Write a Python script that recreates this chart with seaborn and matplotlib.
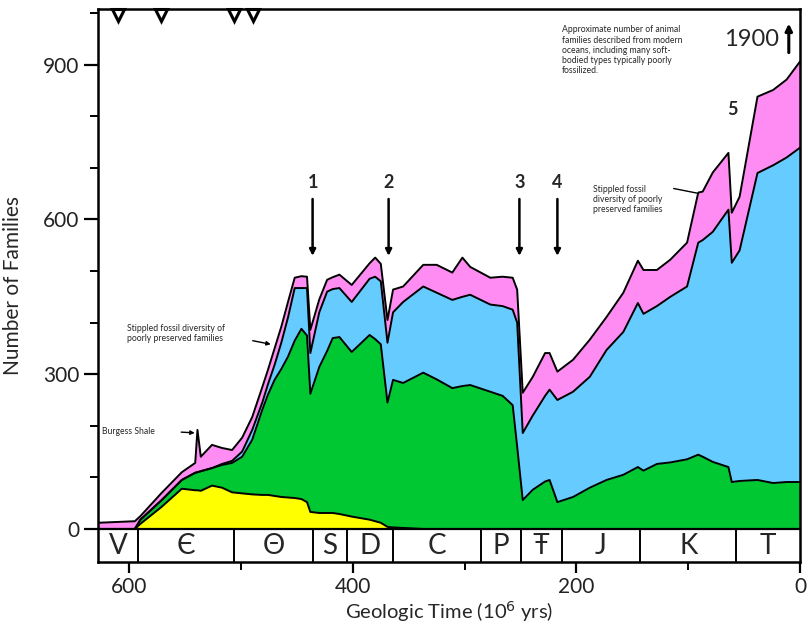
import matplotlib
matplotlib.use("Agg")
import matplotlib.pyplot as plt
import seaborn as sns
import pandas as pd
import numpy as np

# ages in Myr before present, and cumulative diversity (number of families)
ages = [628, 595, 590, 571, 553, 541, 539, 536, 526, 517, 508, 499, 490, 481, 476,
        470, 464, 458, 452, 446, 441, 438, 430, 423, 418, 412, 401, 385, 380, 375,
        369, 364, 355, 337, 325, 311, 302, 295, 277, 266, 257, 253, 248, 239, 228,
        224, 217, 203, 188, 173, 158, 145, 140, 128, 116, 101, 91, 87, 78, 64,
        61, 54, 38, 24, 12, 0]
cambrian_top = [0, 0, 10, 43, 78, 75, 75, 74, 84, 80, 71, 69, 67, 66, 66,
                64, 62, 61, 60, 58, 52, 33, 31, 31, 31, 29, 24, 18, 15, 12,
                4, 3, 2, 0, 0, 0, 0, 0, 0, 0, 0, 0, 0, 0, 0,
                0, 0, 0, 0, 0, 0, 0, 0, 0, 0, 0, 0, 0, 0, 0,
                0, 0, 0, 0, 0, 0]
paleozoic_top = [0, 0, 18, 56, 95, 109, 110, 112, 118, 124, 128, 140, 173, 231, 260,
                 289, 310, 334, 365, 388, 375, 262, 314, 345, 370, 372, 343, 376, 368, 358,
                 245, 289, 283, 303, 290, 273, 277, 279, 266, 258, 240, 160, 56, 76, 92,
                 95, 52, 62, 80, 95, 105, 120, 113, 126, 129, 135, 144, 140, 130, 120,
                 91, 93, 95, 89, 91, 91]
modern_top = [0, 0, 18, 56, 95, 109, 110, 112, 118, 126, 132, 150, 192, 245, 280,
              318, 361, 410, 467, 467, 467, 341, 420, 460, 465, 467, 440, 485, 489, 480,
              361, 420, 440, 470, 458, 444, 450, 454, 435, 432, 425, 400, 186, 220, 258,
              270, 250, 266, 295, 347, 382, 438, 417, 432, 450, 470, 555, 560, 576, 619,
              516, 540, 690, 705, 720, 739]
total_top = [12, 15, 25, 70, 110, 128, 192, 140, 163, 157, 153, 177, 217, 275, 308,
             350, 392, 440, 487, 490, 489, 386, 445, 483, 488, 493, 473, 515, 526, 514,
             405, 464, 470, 512, 512, 497, 526, 508, 487, 489, 487, 464, 264, 295, 341,
             341, 305, 328, 367, 411, 458, 520, 502, 502, 522, 555, 652, 654, 691, 729,
             613, 644, 838, 851, 871, 906]

period_bounds = [628, 592, 506, 436, 405, 364, 285, 250, 213, 143, 57, 0]
period_labels = ["V", "Є", "Θ", "S", "D", "C", "P", "Ŧ", "J", "K", "T"]

extinctions = ["1", "2", "3", "4"]
extinction_ages = [436, 368, 251, 217]

df = pd.DataFrame({"age": ages, "cambrian": cambrian_top, "paleozoic": paleozoic_top,
                   "modern": modern_top, "total": total_top})

sns.set_theme(style="ticks")
plt.rcParams["font.family"] = ["Lato", "DejaVu Sans"]

fig = plt.figure(figsize=(8.11, 6.32), dpi=100)
ax = fig.add_axes([0.1208, 0.1108, 0.8656, 0.875])

cols = {"cambrian": "#ffff00", "paleozoic": "#00c832", "modern": "#66ccff", "total": "#ff8cf2"}
layers = ["cambrian", "paleozoic", "modern", "total"]
base = np.zeros(len(df))
for name in layers:
    ax.fill_between(df["age"], base, df[name], color=cols[name], linewidth=0, zorder=1)
    base = df[name].values

long = df.melt(id_vars="age", value_vars=layers, var_name="layer", value_name="families")
sns.lineplot(data=long, x="age", y="families", units="layer", estimator=None,
             color="black", linewidth=1.4, sort=False, ax=ax, zorder=2)

# period band below zero
band = -64
ax.axhline(0, color="black", lw=1.6, zorder=3)
ax.vlines(period_bounds[1:-1], band, 0, color="black", lw=1.4, zorder=3)
for i, lab in enumerate(period_labels):
    mid = (period_bounds[i] + period_bounds[i + 1]) / 2
    ax.text(mid, band / 2 - 2, lab, ha="center", va="center", fontsize=20, zorder=4)

# extinction arrows
for lab, a in zip(extinctions, extinction_ages):
    ax.annotate("", xy=(a, 524), xytext=(a, 645),
                arrowprops=dict(arrowstyle="-|>", color="black", lw=1.8, mutation_scale=9))
    ax.text(a, 672, lab, ha="center", va="center", fontsize=13, fontweight="bold")
ax.text(60, 813, "5", ha="center", va="center", fontsize=13, fontweight="bold")

# 1900 marker
ax.text(43, 949, "1900", ha="center", va="center", fontsize=17)
ax.annotate("", xy=(10, 985), xytext=(10, 918),
            arrowprops=dict(arrowstyle="-|>", color="black", lw=2.2, mutation_scale=10))
ax.text(213, 976, "Approximate number of animal\nfamilies described from modern\n"
        "oceans, including many soft-\nbodied types typically poorly\nfossilized.",
        ha="left", va="top", fontsize=6.2, linespacing=1.15)

ax.text(185, 666, "Stippled fossil\ndiversity of poorly\npreserved families",
        ha="left", va="top", fontsize=6.2, linespacing=1.15)
ax.plot([113, 92], [660, 651], color="black", lw=1)

ax.text(602, 398, "Stippled fossil diversity of\npoorly preserved families",
        ha="left", va="top", fontsize=6.2, linespacing=1.15)
ax.annotate("", xy=(471, 357), xytext=(492, 366),
            arrowprops=dict(arrowstyle="-|>", color="black", lw=1, mutation_scale=6))

ax.text(624, 189, "Burgess Shale", ha="left", va="center", fontsize=6.2)
ax.annotate("", xy=(539, 186), xytext=(556, 188),
            arrowprops=dict(arrowstyle="-|>", color="black", lw=1, mutation_scale=6))

# small marks along the top edge
ax.plot([610, 572, 506, 489], [997] * 4, linestyle="none", marker="v", markersize=8,
        markerfacecolor="white", markeredgecolor="black", markeredgewidth=2.2, clip_on=False)

ax.set_xlim(628, 0)
ax.set_ylim(band, 1008)
ax.set_xticks([600, 400, 200, 0])
ax.set_xticks([500, 300, 100], minor=True)
ax.set_yticks([0, 300, 600, 900])
ax.set_yticks([100, 200, 400, 500, 700, 800, 1000], minor=True)
ax.tick_params(axis="both", which="major", direction="out", length=8, width=1.6,
               labelsize=15, color="black", labelcolor="#222222")
ax.tick_params(axis="both", which="minor", direction="out", length=6, width=1.4, color="black")
ax.tick_params(axis="x", which="major", pad=3)
ax.tick_params(axis="y", which="major", length=10)
for s in ax.spines.values():
    s.set_linewidth(1.8)
    s.set_color("black")

ax.set_xlabel("Geologic Time (10$^6$ yrs)", fontsize=14.5, labelpad=1)
ax.set_ylabel("Number of Families", fontsize=15, labelpad=14)
ax.grid(False)

fig.savefig("out.png", dpi=100)
